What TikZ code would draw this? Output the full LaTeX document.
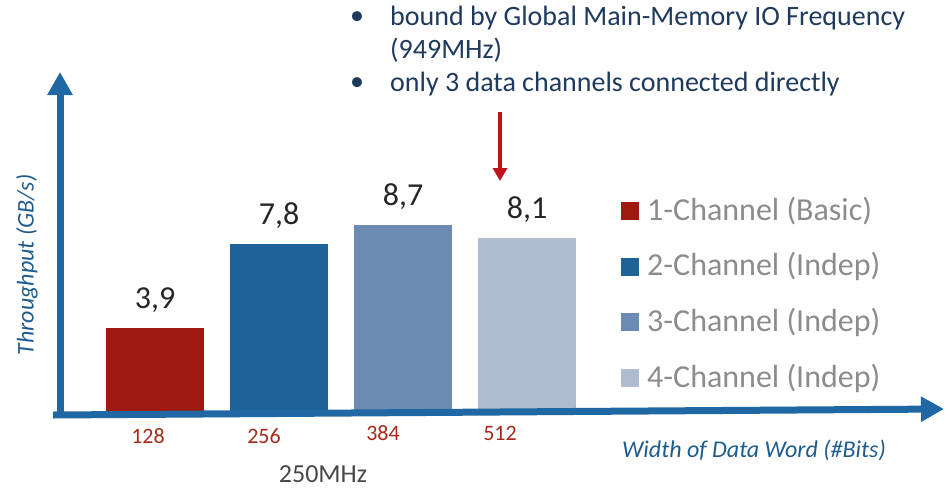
\documentclass[tikz,border=0pt]{standalone}
\usepackage{fontspec}
\setmainfont{Carlito}
\usetikzlibrary{arrows.meta}
\definecolor{axisblue}{HTML}{1F68A3}
\definecolor{labelblue}{HTML}{1F5C8E}
\definecolor{barred}{HTML}{A0190F}
\definecolor{bardark}{HTML}{1D6398}
\definecolor{barmid}{HTML}{6B8BB3}
\definecolor{barlight}{HTML}{AFBBD0}
\definecolor{tickred}{HTML}{A52A1A}
\definecolor{notenavy}{HTML}{1E3A5C}
\definecolor{legendgrey}{HTML}{8C8C8C}
\definecolor{annored}{HTML}{C0141C}
\tikzset{
  axisline/.style={draw=axisblue, line width=7pt, -{Triangle[width=24pt,length=23pt]}},
  bar/.style={inner sep=0pt, outer sep=0pt, anchor=south west},
  value/.style={font=\fontsize{32}{36}\selectfont, text=black!85},
  tick/.style={font=\fontsize{22}{26}\selectfont, text=tickred, inner sep=0pt},
  axislabel/.style={font=\fontsize{24}{28}\selectfont\itshape, text=labelblue},
  legsq/.style={minimum size=18pt, inner sep=0pt},
  legtext/.style={font=\fontsize{32}{36}\selectfont, text=legendgrey, anchor=west, inner sep=0pt},
  note/.style={font=\fontsize{28}{32}\selectfont, text=notenavy, anchor=west, inner sep=0pt},
}
\begin{document}
\begin{tikzpicture}[x=1pt, y=-1pt]
\useasboundingbox (0,0) rectangle (950,488);

% bars (x = left edge, width 98)
\node[bar, fill=barred,   minimum width=98pt, minimum height=84pt]  (b1) at (106,412) {};
\node[bar, fill=bardark,  minimum width=98pt, minimum height=168pt] (b2) at (230,412) {};
\node[bar, fill=barmid,   minimum width=98pt, minimum height=187pt] (b3) at (354,412) {};
\node[bar, fill=barlight, minimum width=98pt, minimum height=174pt] (b4) at (478,412) {};

% axes
\coordinate (origin) at (53,415);
\coordinate (ytip) at (60,72);
\coordinate (xtip) at (944,409);
\draw[axisline] (60,418) -- (ytip);
\draw[axisline] (origin) -- (xtip);

% values above bars
\node[value] (v1) at (155,300) {3,9};
\node[value] (v2) at (279,216) {7,8};
\node[value] (v3) at (403,197) {8,7};
\node[value] (v4) at (527,210) {8,1};

% category ticks
\node[tick] (t1) at (148,436) {128};
\node[tick] (t2) at (264,436) {256};
\node[tick] (t3) at (383,433) {384};
\node[tick] (t4) at (500,433) {512};
\node[font=\fontsize{26}{30}\selectfont, text=black!72, inner sep=0pt] (freq) at (323,474) {250MHz};

% axis labels
\node[axislabel] (xlab) at (754,450) {Width of Data Word (\#Bits)};
\node[axislabel, rotate=90] (ylab) at (27,265) {Throughput (GB/s)};

% legend
\foreach \c/\t [count=\i] in {barred/1-Channel (Basic), bardark/2-Channel (Indep),
                               barmid/3-Channel (Indep), barlight/4-Channel (Indep)} {
  \node[legsq, fill=\c] (sq\i) at (630,{211+55.7*(\i-1)}) {};
  \node[legtext] (lt\i) at (647,{211+55.7*(\i-1)}) {\t};
}

% annotation
\node[note] (n1) at (390,18) {bound by Global Main-Memory IO Frequency};
\node[note] (n2) at (390,50) {(949MHz)};
\node[note] (n3) at (390,84) {only 3 data channels connected directly};
\foreach \i/\y in {1/18, 3/84} \node[note, anchor=center] (bul\i) at (357,\y) {\textbullet};
\coordinate (arrtop) at (500,112);
\coordinate (arrend) at (500,181);
\draw[draw=annored, line width=3.5pt, -{Triangle[width=14pt,length=13pt]}] (arrtop) -- (arrend);
\end{tikzpicture}
\end{document}
